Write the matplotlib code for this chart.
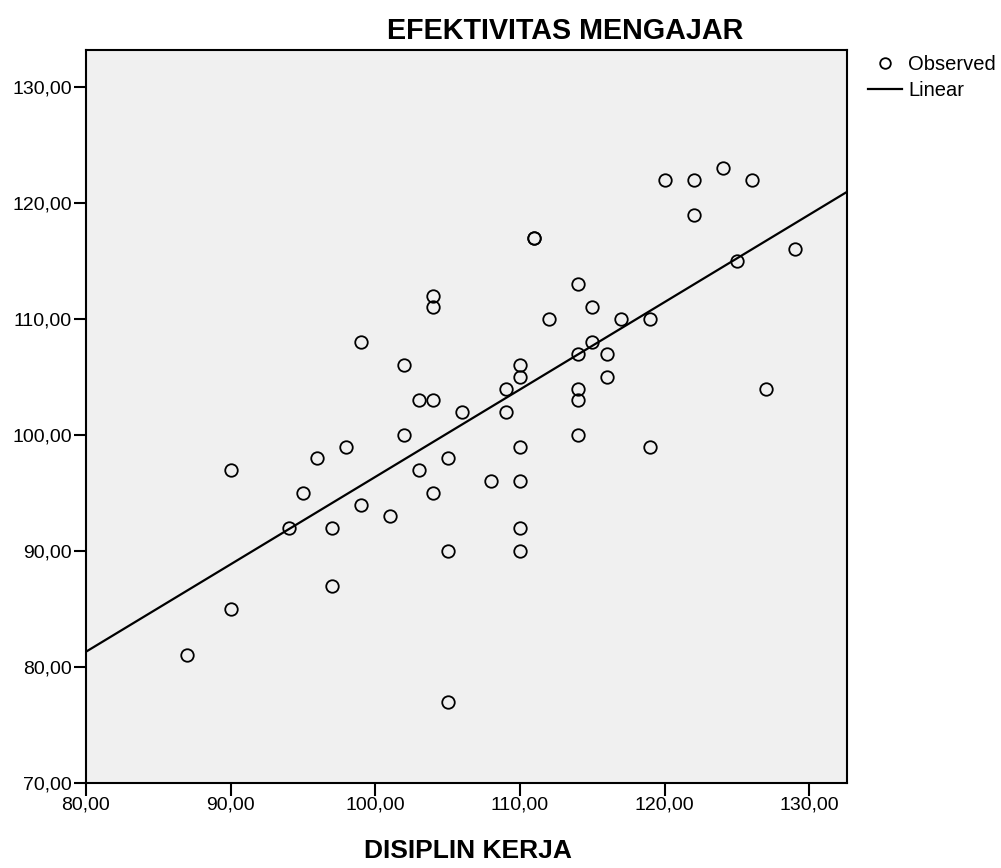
import numpy as np
import matplotlib.pyplot as plt
from matplotlib.ticker import FuncFormatter

plt.rcParams['font.family'] = ['Liberation Sans', 'DejaVu Sans']

disiplin = [87, 90, 90, 94, 95, 96, 97, 97, 98, 99, 99,
            101, 102, 102, 103, 103, 104, 104, 104, 104,
            105, 105, 105, 106, 108, 109, 109,
            110, 110, 110, 110, 110, 110, 111, 111, 112,
            114, 114, 114, 114, 114, 115, 115, 116, 116, 117,
            119, 119, 120, 122, 122, 124, 125, 126, 127, 129]
efektivitas = [81, 97, 85, 92, 95, 98, 92, 87, 99, 108, 94,
               93, 106, 100, 103, 97, 112, 111, 103, 95,
               98, 90, 77, 102, 96, 104, 102,
               106, 105, 99, 96, 92, 90, 117, 117, 110,
               113, 107, 104, 103, 100, 111, 108, 107, 105, 110,
               110, 99, 122, 122, 119, 123, 115, 122, 104, 116]
x_ticks = [80, 90, 100, 110, 120, 130]
y_ticks = [70, 80, 90, 100, 110, 120, 130]

x = np.array(disiplin, dtype=float)
y = np.array(efektivitas, dtype=float)
slope, intercept = np.polyfit(x, y, 1)

fig = plt.figure(figsize=(10.01, 8.68), dpi=100)
ax = fig.add_axes([86/1001, 1 - 783/868, (847-86)/1001, (783-50)/868])
ax.set_facecolor('#f0f0f0')

xmin, xmax = 80, 132.6
ax.plot(x, y, 'o', ms=9, mfc='none', mec='black', mew=1.3, label='Observed', zorder=3)
xl = np.array([xmin, xmax])
ax.plot(xl, intercept + slope * xl, color='black', lw=1.6, label='Linear', zorder=2)

ax.set_xlim(xmin, xmax)
ax.set_ylim(70, 133.2)
ax.set_xticks(x_ticks)
ax.set_yticks(y_ticks)
fmt = FuncFormatter(lambda v, p: f"{v:.2f}".replace('.', ','))
ax.xaxis.set_major_formatter(fmt)
ax.yaxis.set_major_formatter(fmt)
ax.tick_params(direction='out', length=9, width=1.5, labelsize=14, pad=1)
for s in ax.spines.values():
    s.set_linewidth(1.5)

fig.text(565/1001, 1 - 31/868, 'EFEKTIVITAS MENGAJAR', ha='center', va='center',
         fontsize=20.7, fontweight='bold')
fig.text(468/1001, 1 - 851/868, 'DISIPLIN KERJA', ha='center', va='center',
         fontsize=19, fontweight='bold')

fig.legend(loc='upper left', bbox_to_anchor=(868/1001, 1 - 55/868), frameon=False,
           fontsize=14.5, handlelength=1.68, handletextpad=0.3, labelspacing=0.37,
           borderaxespad=0, borderpad=0, markerscale=0.85)

fig.savefig('out.png', dpi=100)
